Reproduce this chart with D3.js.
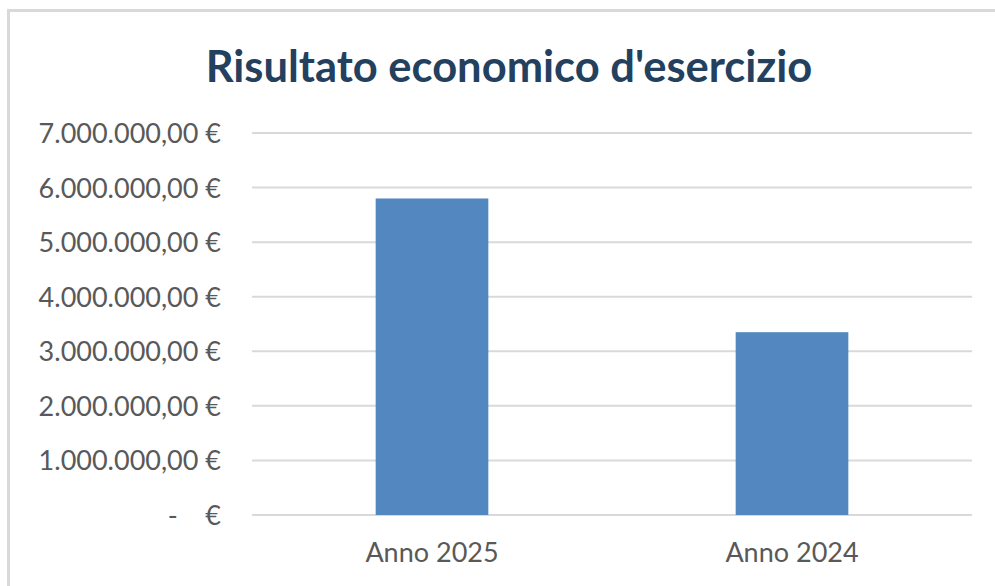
<html>
    <head>
        <style>
            body { margin: 0; background: #fff; }
            .bar { fill: #5287C0; }
            text { font-family: Lato, "Open Sans", sans-serif; }
        </style>
        <script src="https://d3js.org/d3.v7.min.js"></script>
    </head>
    <body>
        <svg width="995" height="586"></svg>
        <script>
            // dati del grafico
            const categories = ["Anno 2025", "Anno 2024"]
            const values = [5800000, 3350000]
            const yTicks = [0, 1000000, 2000000, 3000000, 4000000, 5000000, 6000000, 7000000]
            const title = "Risultato economico d'esercizio"

            let svg = d3.select("svg"),
                plotLeft = 252, plotRight = 972,
                plotTop = 133, plotBottom = 515

            // cornice (solo bordo alto e sinistro visibili)
            svg.append("path")
               .attr("d", "M8.5,600 V10.5 H1000")
               .attr("fill", "none")
               .attr("stroke", "#D9D9D9")
               .attr("stroke-width", 3)

            svg.append("text")
               .attr("x", 509)
               .attr("y", 82)
               .attr("text-anchor", "middle")
               .attr("font-size", "43.5px")
               .attr("font-weight", "bold")
               .attr("fill", "#23405F")
               .text(title)

            let xScale = d3.scaleBand().domain(categories).range([plotLeft, plotRight])
                           .paddingInner(0.687).paddingOuter(0.687 / 2),
                yScale = d3.scaleLinear().domain([0, 7000000]).range([plotBottom, plotTop])

            let fmt = function(d) {
                if (d === 0) return "-    €"
                let s = d3.format(",.2f")(d)
                return s.replace(/,/g, "#").replace(".", ",").replace(/#/g, ".") + " €"
            }

            // griglia
            svg.append("g")
               .selectAll("line")
               .data(yTicks)
               .enter().append("line")
               .attr("x1", plotLeft)
               .attr("x2", plotRight)
               .attr("y1", d => yScale(d))
               .attr("y2", d => yScale(d))
               .attr("stroke", "#D9D9D9")
               .attr("stroke-width", 2)

            let yAxis = svg.append("g")
               .attr("transform", "translate(221,0)")
               .call(d3.axisLeft(yScale).tickValues(yTicks).tickFormat(fmt).tickSize(0).tickPadding(0))
            yAxis.select(".domain").remove()
            yAxis.selectAll("text")
               .attr("font-size", "27px")
               .attr("font-family", "Lato, sans-serif")
               .attr("fill", "#595959")
               .attr("dy", "0.35em")
               .style("white-space", "pre")

            svg.selectAll(".bar")
               .data(values)
               .enter().append("rect")
               .attr("class", "bar")
               .attr("x", (d, i) => xScale(categories[i]))
               .attr("y", d => yScale(d))
               .attr("width", xScale.bandwidth())
               .attr("height", d => plotBottom - yScale(d))

            let xAxis = svg.append("g")
               .attr("transform", "translate(0," + plotBottom + ")")
               .call(d3.axisBottom(xScale).tickSize(0).tickPadding(0))
            xAxis.select(".domain").remove()
            xAxis.selectAll("text")
               .attr("font-size", "27px")
               .attr("font-family", "Lato, sans-serif")
               .attr("fill", "#595959")
               .attr("dy", "0")
               .attr("y", 47)
        </script>
    </body>
</html>
